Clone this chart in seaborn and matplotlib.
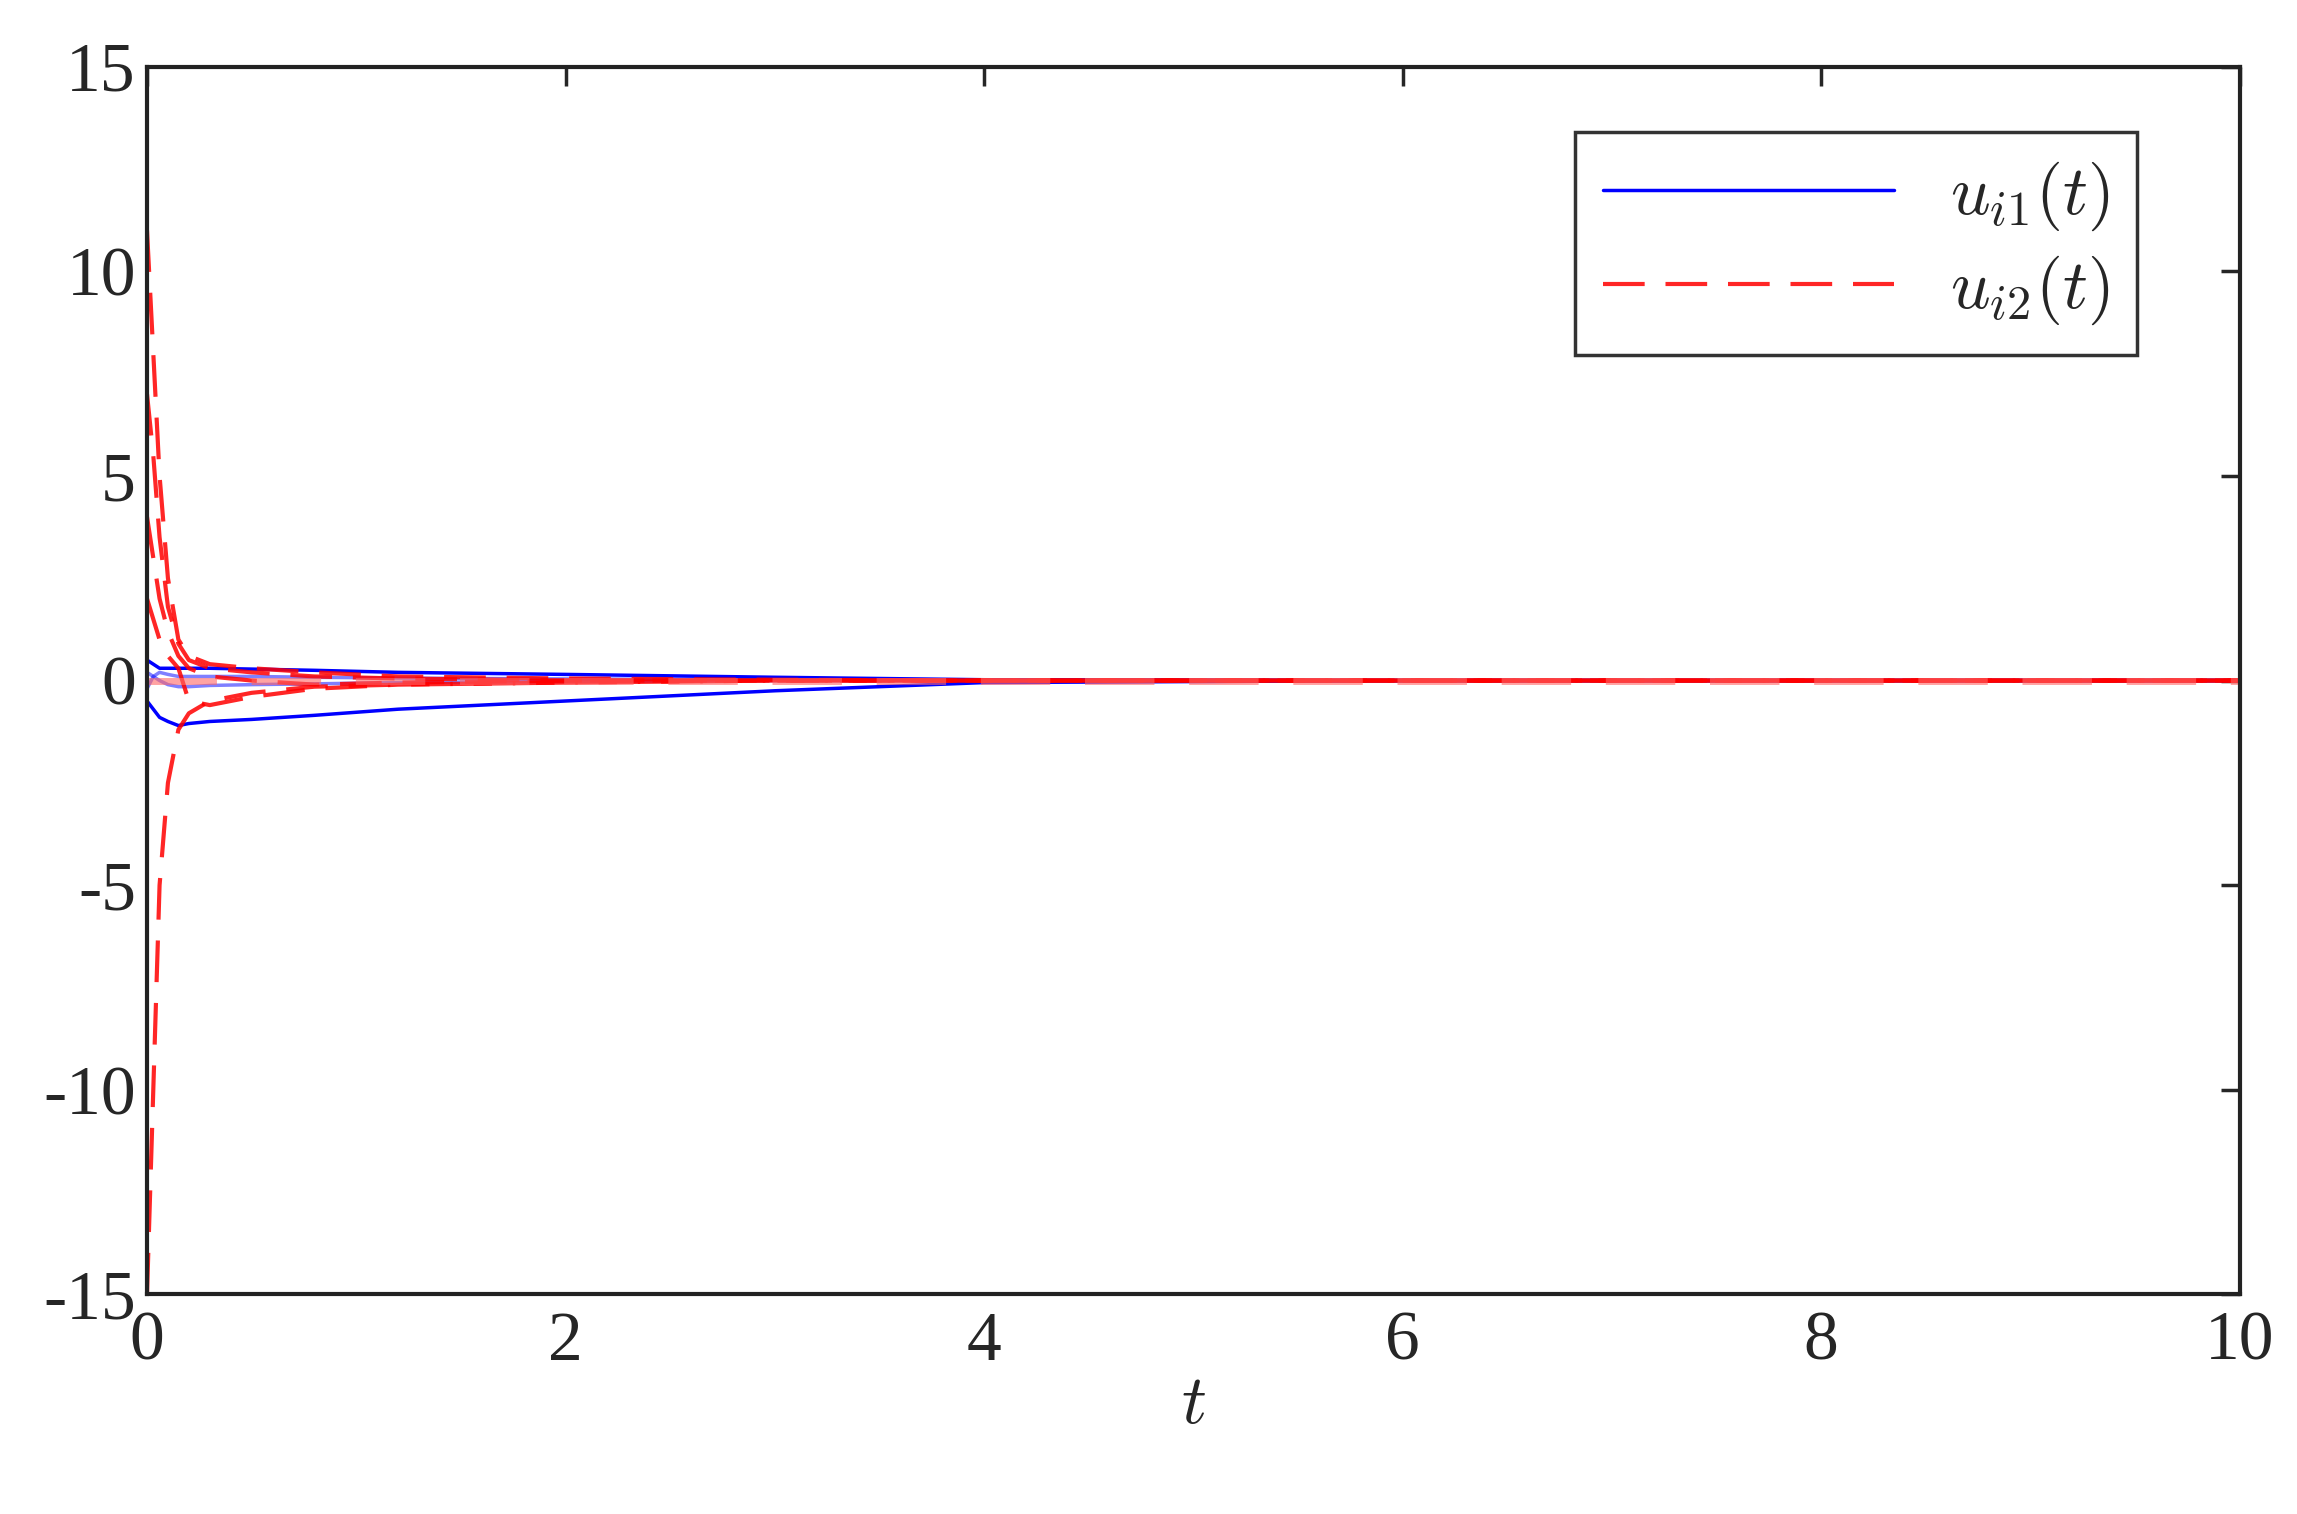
import numpy as np
import pandas as pd
import seaborn as sns
import matplotlib
matplotlib.use("Agg")
import matplotlib.pyplot as plt

t = [0, 0.03, 0.06, 0.1, 0.15, 0.2, 0.3, 0.5, 0.8, 1.2, 2, 3, 4, 6, 10]
red1 = [11, 8, 5, 2.5, 1.0, 0.6, 0.4, 0.3, 0.2, 0.1, 0.05, 0.02, 0, 0, 0]
red2 = [-15, -10, -5, -2.5, -1.2, -0.8, -0.5, -0.3, -0.15, -0.1, -0.05, 0, 0, 0, 0]
red3 = [7, 5.5, 3.5, 1.8, 0.9, 0.5, 0.3, 0.2, 0.1, 0.05, 0, 0, 0, 0, 0]
red4 = [2, 1.5, 1.0, 0.6, 0.3, -0.5, -0.6, -0.4, -0.2, -0.1, -0.05, 0, 0, 0, 0]
red5 = [4, 3, 2, 1.2, 0.6, 0.3, 0.1, 0.0, -0.1, -0.05, 0, 0, 0, 0, 0]
blue1 = [0.5, 0.4, 0.3, 0.3, 0.3, 0.3, 0.3, 0.28, 0.25, 0.2, 0.15, 0.08, 0.02, 0, 0]
blue2 = [-0.5, -0.7, -0.9, -1.0, -1.1, -1.05, -1.0, -0.95, -0.85, -0.7, -0.5, -0.25, -0.05, 0, 0]
blue3 = [0.2, 0.1, 0.0, -0.1, -0.15, -0.15, -0.12, -0.1, -0.08, -0.05, -0.02, 0, 0, 0, 0]
blue4 = [-0.2, 0.1, 0.2, 0.15, 0.1, 0.1, 0.1, 0.1, 0.08, 0.06, 0.04, 0.02, 0, 0, 0]

sns.set_theme(style="white")
plt.rcParams['font.family'] = ['Liberation Serif', 'DejaVu Serif']
plt.rcParams['mathtext.fontset'] = 'cm'
plt.rcParams['axes.unicode_minus'] = False

fig = plt.figure(figsize=(22.97, 15.14), dpi=100)
ax = fig.add_axes([0.064, 0.145, 0.911, 0.811])

for i, b in enumerate([blue1, blue2, blue3, blue4]):
    sns.lineplot(x=t, y=b, ax=ax, color='blue', lw=2.5, alpha=1.0 if i < 2 else 0.5,
                 label=r'$u_{i1}(t)$' if i == 0 else None)
for i, r in enumerate([red1, red2, red3, red4, red5]):
    sns.lineplot(x=t, y=r, ax=ax, color='red', lw=3, alpha=0.85,
                 label=r'$u_{i2}(t)$' if i == 0 else None)
for l in ax.lines[4:]:
    l.set_linestyle((0, (10, 5)))
# lighter overlay toward the tail, as in reference
sns.lineplot(x=t, y=[0]*len(t), ax=ax, color='#ff6666', lw=5, alpha=0.6)
ax.lines[-1].set_linestyle((0, (10, 5)))

ax.set_xlim(0, 10)
ax.set_ylim(-15, 15)
ax.set_xticks([0, 2, 4, 6, 8, 10])
ax.set_yticks([-15, -10, -5, 0, 5, 10, 15])
ax.set_xlabel(r'$t$', fontsize=50, labelpad=0)
ax.tick_params(labelsize=50, direction='in', length=14, width=2.5, top=True, right=True)
ax.tick_params(axis='x', pad=12)
ax.tick_params(axis='y', pad=8)
for s in ax.spines.values():
    s.set_linewidth(3)
    s.set_color('#222222')
leg = ax.legend(loc='upper right', bbox_to_anchor=(0.9675, 0.975), fontsize=50,
                frameon=True, fancybox=False, edgecolor='black', handlelength=4.2,
                borderpad=0.4, labelspacing=0.3)
leg.get_frame().set_linewidth(2.5)
fig.savefig('out.png', dpi=100)
